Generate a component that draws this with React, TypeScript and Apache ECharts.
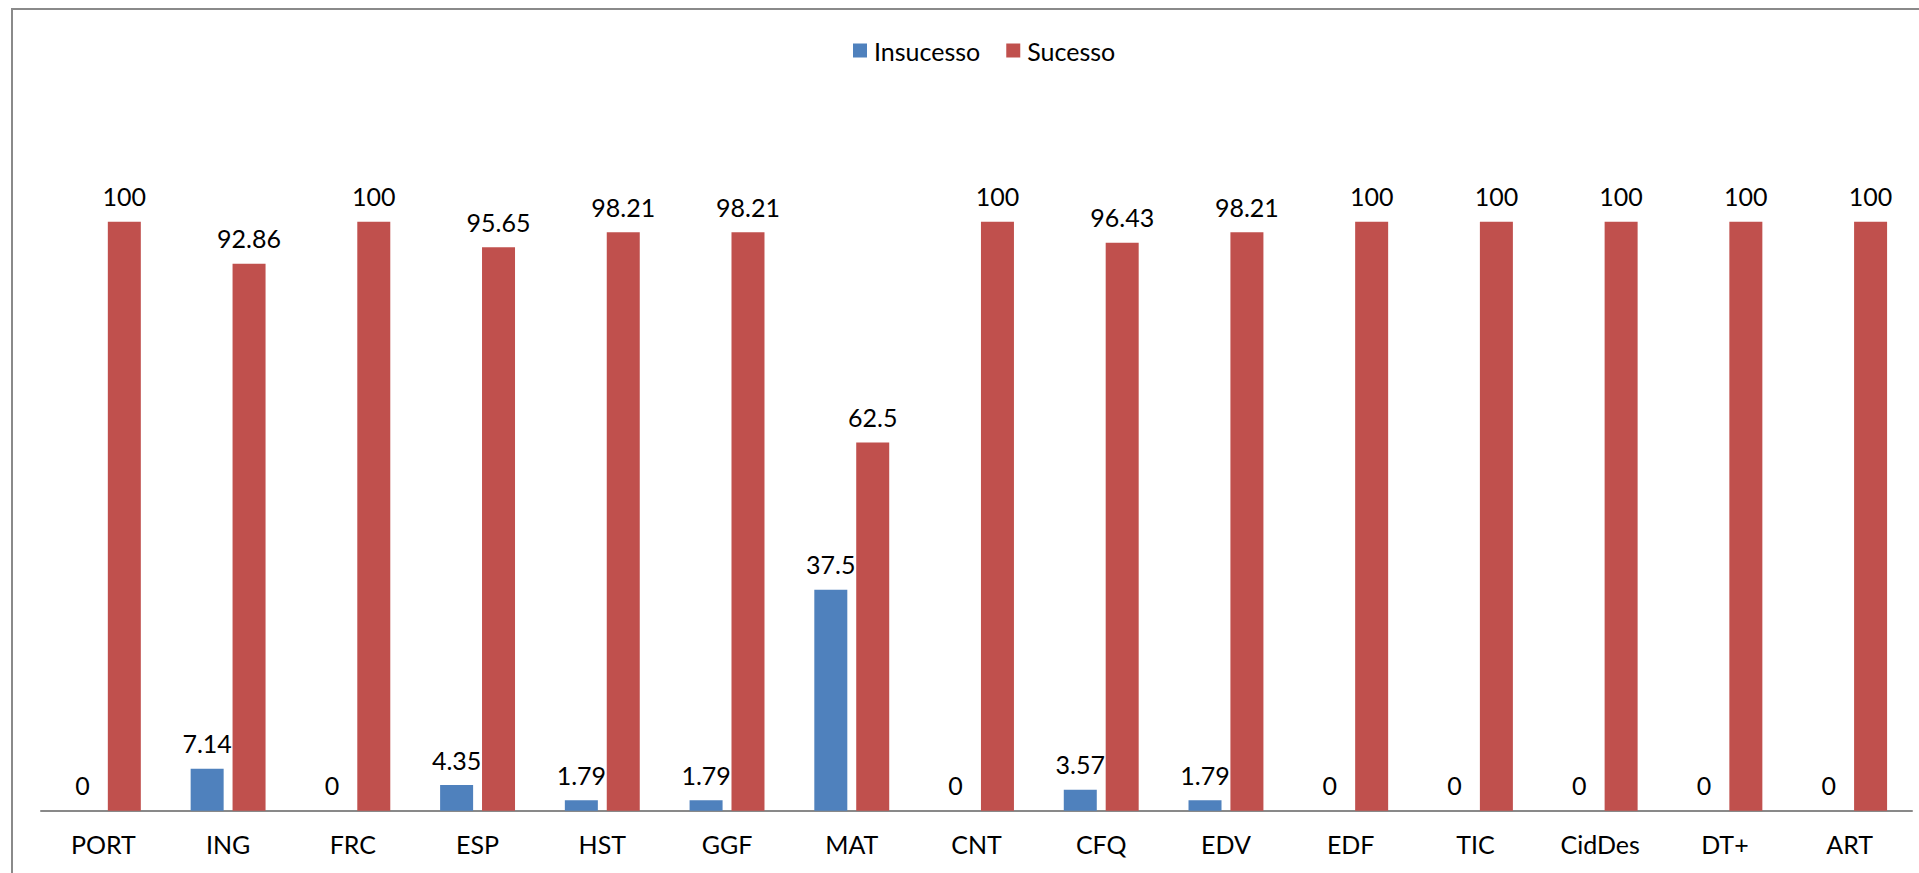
import React, { useEffect, useRef } from "react";
import * as echarts from "echarts";

const categories = ["PORT", "ING", "FRC", "ESP", "HST", "GGF", "MAT", "CNT", "CFQ", "EDV", "EDF", "TIC", "CidDes", "DT+", "ART"];
const insucesso = [0, 7.14, 0, 4.35, 1.79, 1.79, 37.5, 0, 3.57, 1.79, 0, 0, 0, 0, 0];
const sucesso = [100, 92.86, 100, 95.65, 98.21, 98.21, 62.5, 100, 96.43, 98.21, 100, 100, 100, 100, 100];
const seriesNames = ["Insucesso", "Sucesso"];

const FONT = "Lato, 'Liberation Sans', sans-serif";

export default function App() {
  const ref = useRef<HTMLDivElement>(null);
  useEffect(() => {
    if (!ref.current) return;
    const chart = echarts.init(ref.current, null, { renderer: "svg" });
    const label = {
      show: true,
      position: "top",
      distance: 13,
      color: "#000",
      fontSize: 25,
      lineHeight: 25,
      fontFamily: FONT,
    };
    chart.setOption({
      animation: false,
      backgroundColor: "#fff",
      textStyle: { fontFamily: FONT },
      graphic: [
        {
          type: "polyline",
          shape: { points: [[12, 873], [12, 9], [1919, 9]] },
          style: { stroke: "#8a8a8a", lineWidth: 2, fill: "none" },
          silent: true,
        },
      ],
      legend: {
        data: seriesNames,
        left: 853,
        top: 38,
        padding: 0,
        itemWidth: 14,
        itemHeight: 14,
        itemGap: 26,
        icon: "rect",
        textStyle: { fontSize: 25, lineHeight: 25, color: "#000", fontFamily: FONT, padding: [0, 0, 0, 2] },
      },
      grid: { left: 41, right: 7, top: 103.9, bottom: 62.3, containLabel: false },
      xAxis: {
        type: "category",
        data: categories,
        axisLine: { lineStyle: { color: "#898989", width: 2 } },
        axisTick: { show: false },
        axisLabel: { color: "#000", fontSize: 25, lineHeight: 25, margin: 21, fontFamily: FONT, interval: 0 },
      },
      yAxis: {
        type: "value",
        min: 0,
        max: 120,
        show: false,
        splitLine: { show: false },
      },
      series: [
        {
          name: seriesNames[0],
          type: "bar",
          data: insucesso,
          barWidth: 33,
          barGap: "27%",
          itemStyle: { color: "#4F81BD" },
          label,
        },
        {
          name: seriesNames[1],
          type: "bar",
          data: sucesso,
          barWidth: 33,
          barGap: "27%",
          itemStyle: { color: "#C0504D" },
          label,
        },
      ],
    });
    return () => chart.dispose();
  }, []);
  return (
    <div
      ref={ref}
      style={{ position: "fixed", left: 0, top: 0, width: 1919, height: 873 }}
    />
  );
}
